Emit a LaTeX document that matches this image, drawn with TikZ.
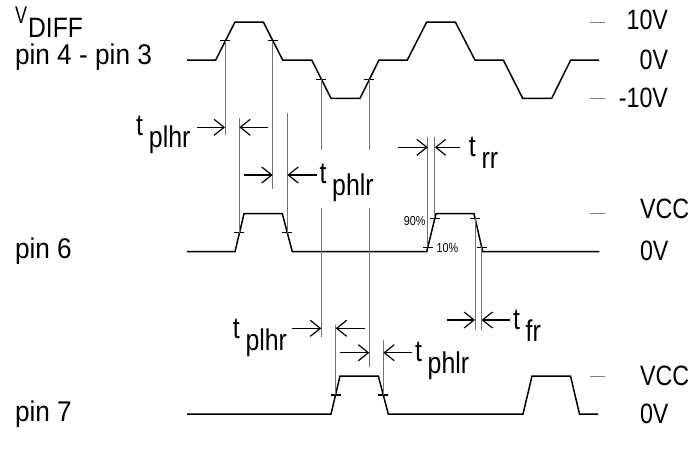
\documentclass[tikz,border=0pt]{standalone}
\usepackage{graphicx}
\usepackage{fontspec}
\setmainfont{Liberation Sans}
\usetikzlibrary{arrows.meta}
\tikzset{
  wave/.style={line width=1.5pt, black, line join=miter},
  tickmark/.style={line width=1.1pt, black},
  guide/.style={line width=0.7pt, black!55},
  scalemark/.style={line width=1pt, black!50},
  dimarrow/.style={line width=1.2pt, black, -{Straight Barb[length=10pt,width=16pt,line width=1.2pt]}},
  lbl/.style={inner sep=0pt, outer sep=0pt, anchor=base west, font=\fontsize{30}{30}\selectfont},
  pinlbl/.style={inner sep=0pt, outer sep=0pt, anchor=base west, font=\fontsize{28.5}{28.5}\selectfont},
  vlbl/.style={inner sep=0pt, outer sep=0pt, font=\fontsize{28}{28}\selectfont},
  pct/.style={inner sep=0pt, outer sep=0pt, font=\fontsize{13}{13}\selectfont},
}
\newcommand{\nar}[1]{\scalebox{0.83}[1]{#1}}
\newcommand{\pnar}[1]{\scalebox{0.92}[1]{#1}}
\newcommand{\tsub}[1]{\nar{t\hspace{7pt}\raisebox{-12.5pt}{#1}}}
\begin{document}
\begin{tikzpicture}[x=1pt,y=-1pt]
\useasboundingbox (0,0) rectangle (696,451);
% ---------- waveforms ----------
\draw[wave] (187,60) -- (215.7,60) -- (235,22) -- (263.3,22) -- (282.7,60) -- (311.7,60) -- (331,98.3) -- (360,98.3) -- (379,60) -- (407.3,60) -- (426.7,22) -- (455.3,22) -- (475,60) -- (503.3,60) -- (522.7,98.3) -- (551.7,98.3) -- (570.7,60) -- (599,60);
\draw[wave] (187,251.7) -- (235,251.7) -- (244,213.7) -- (282.3,213.7) -- (292.3,251.7) -- (426.7,251.7) -- (436,213.7) -- (474,213.7) -- (482.7,251.7) -- (599.3,251.7);
\draw[wave] (187,414) -- (331,414) -- (340,376) -- (378.3,376) -- (388.3,414) -- (523,414) -- (532,376) -- (570.5,376) -- (579.5,414) -- (598,414);
% ---------- crossing points ----------
\coordinate (a1) at (225,40.7);
\coordinate (a2) at (272.7,40.7);
\coordinate (a3) at (321.3,79.3);
\coordinate (a4) at (369.3,79.3);
\coordinate (b1) at (239.3,232.7);
\coordinate (b2) at (287.3,232.7);
\coordinate (c1) at (335.7,395);
\coordinate (c2) at (383.3,395);
\coordinate (r90) at (434.8,218.3);
\coordinate (r10) at (427.8,247.3);
\coordinate (f90) at (475,218.3);
\coordinate (f10) at (481.6,247.3);
\foreach \p in {a1,a2,a3,a4,b1,b2,c1,c2,r90,r10,f90,f10}
  \draw[tickmark] ([xshift=-5pt]\p) -- ([xshift=5pt]\p);
% ---------- guide lines ----------
\draw[guide] (a1) -- (225,135);
\draw[guide] (a2) -- (272.7,189.3);
\draw[guide] (a3) -- (321.3,150) (321.3,208) -- (321.3,337);
\draw[guide] (a4) -- (369.3,150) (369.3,208) -- (369.3,367);
\draw[guide] (239.3,118) -- (b1);
\draw[guide] (287.3,113.3) -- (b2);
\draw[guide] (335.7,325) -- (c1);
\draw[guide] (383.3,340) -- (c2);
\draw[guide] (427.8,136.7) -- (r10);
\draw[guide] (434.8,136.7) -- (r90);
\draw[guide] (f90) -- (475,330);
\draw[guide] (f10) -- (481.6,330);
% ---------- dimension arrows ----------
\draw[dimarrow] (196.7,127.3) -- (225,127.3);
\draw[dimarrow] (268.3,127.3) -- (239.3,127.3);
\draw[dimarrow] (244,175) -- (272.7,175);
\draw[dimarrow] (316.7,175) -- (287.3,175);
\draw[dimarrow] (398.3,147.3) -- (427.8,147.3);
\draw[dimarrow] (460,147.3) -- (434.8,147.3);
\draw[dimarrow] (447,320) -- (475,320);
\draw[dimarrow] (510,320) -- (481.6,320);
\draw[dimarrow] (291.7,328.3) -- (321.3,328.3);
\draw[dimarrow] (365,328.3) -- (335.7,328.3);
\draw[dimarrow] (340,352.7) -- (369.3,352.7);
\draw[dimarrow] (411.7,352.7) -- (383.3,352.7);
% ---------- timing labels ----------
\node[lbl] (tplhrA) at (136.2,135) {\tsub{plhr}};
\node[lbl] (tphlrA) at (319.5,183.3) {\tsub{phlr}};
\node[lbl] (trr) at (468.8,156) {\tsub{rr}};
\node[lbl] (tfr) at (513,329) {\tsub{fr}};
\node[lbl] (tplhrB) at (232.8,338.3) {\tsub{plhr}};
\node[lbl] (tphlrB) at (415,361) {\tsub{phlr}};
% ---------- percent labels ----------
\node[pct, anchor=east] (p90) at (425.5,221) {\nar{90\%}};
\node[pct, anchor=west] (p10) at (436.5,248.5) {\nar{10\%}};
% ---------- signal names ----------
\node[inner sep=0pt, anchor=base west, font=\fontsize{24}{24}\selectfont] (vv) at (15,23.5) {\scalebox{0.75}[1]{V}};
\node[inner sep=0pt, anchor=base west, font=\fontsize{28}{28}\selectfont] (vdiff) at (28,37.5) {\scalebox{0.88}[1]{DIFF}};
\node[pinlbl] (pin43) at (15,64.5) {\pnar{pin 4 - pin 3}};
\node[pinlbl] (pin6) at (15,258.5) {\pnar{pin 6}};
\node[pinlbl] (pin7) at (15,421) {\pnar{pin 7}};
% ---------- level scale ----------
\draw[scalemark] (590,22) -- (605,22);
\draw[scalemark] (590,98.3) -- (605,98.3);
\draw[scalemark] (590,213.7) -- (605,213.7);
\draw[scalemark] (590,376) -- (605,376);
\node[vlbl, anchor=base east] (v10) at (668,29.5) {\nar{10V}};
\node[vlbl, anchor=base east] (v0) at (668,69.4) {\nar{0V}};
\node[vlbl, anchor=base east] (vm10) at (668,107.4) {\nar{-10V}};
\node[vlbl, anchor=base west] (vcc6) at (640,218.5) {\nar{VCC}};
\node[vlbl, anchor=base west] (z6) at (640,260) {\nar{0V}};
\node[vlbl, anchor=base west] (vcc7) at (640,385) {\nar{VCC}};
\node[vlbl, anchor=base west] (z7) at (640,423) {\nar{0V}};
\end{tikzpicture}
\end{document}
